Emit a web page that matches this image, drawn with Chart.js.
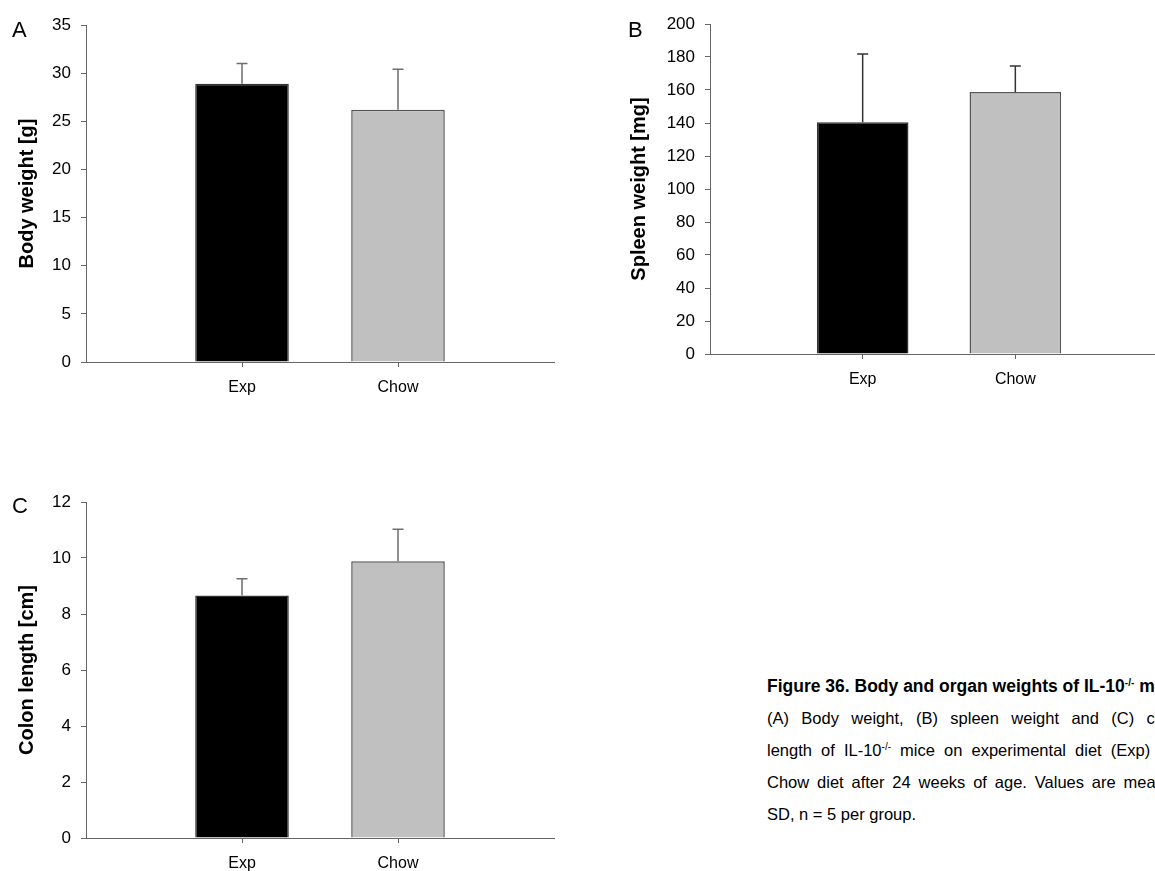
<!DOCTYPE html>
<html lang="en">
<head>
<meta charset="UTF-8" />
<title>Body and organ weights of IL-10 mice</title>
<script src="https://cdn.jsdelivr.net/npm/chart.js"></script>
<style>
  html, body { margin: 0; padding: 0; background: #fff; overflow: hidden; }
  body { width: 1155px; height: 871px; position: relative; font-family: "Liberation Sans", Arial, sans-serif; }
  canvas { position: absolute; }
  #caption { position: absolute; left: 767px; top: 670px; width: 430px; font-size: 16.5px; line-height: 32px; color: #000; }
  #caption .j { text-align: justify; text-align-last: justify; }
  #caption .t { font-weight: bold; font-size: 17.5px; white-space: nowrap; }
  sup { font-size: 10px; line-height: 0; vertical-align: 6px; }
</style>
</head>
<body>
  <canvas id="panelA" width="560" height="400" style="left:0;top:0"></canvas>
  <canvas id="panelB" width="560" height="400" style="left:620px;top:0"></canvas>
  <canvas id="panelC" width="560" height="431" style="left:0;top:440px"></canvas>

  <div id="caption">
    <div class="t">Figure 36. Body and organ weights of IL-10<sup>-/-</sup> mice</div>
    <div class="j" style="width:419px">(A) Body weight, (B) spleen weight and (C) colon</div>
    <div class="j" style="width:407px">length of IL-10<sup>-/-</sup> mice on experimental diet (Exp) or</div>
    <div class="j" style="width:423px">Chow diet after 24 weeks of age. Values are means ±</div>
    <div>SD, n = 5 per group.</div>
  </div>

<script>
const categories = ["Exp", "Chow"];
const bodyWeight = [28.9, 26.2];
const bodyWeightSD = [2.1, 4.2];
const spleenWeight = [140.4, 158.8];
const spleenWeightSD = [41.4, 15.8];
const colonLength = [8.66, 9.88];
const colonLengthSD = [0.6, 1.15];

const barColors = ["#000000", "#c0c0c0"];
const barBorders = ["#333333", "#555555"];

// mean + SD whiskers (upper only) and the panel letter
const errorBars = {
  id: "errorBars",
  afterDatasetsDraw(chart, args, opts) {
    const ctx = chart.ctx;
    const y = chart.scales.y;
    const ds = chart.data.datasets[0];
    ctx.save();
    ctx.strokeStyle = opts.color;
    ctx.lineWidth = 1.5;
    chart.getDatasetMeta(0).data.forEach((bar, i) => {
      const top = y.getPixelForValue(ds.data[i].y + opts.sd[i]);
      ctx.beginPath();
      ctx.moveTo(bar.x, bar.y);
      ctx.lineTo(bar.x, top);
      ctx.moveTo(bar.x - 5.5, top);
      ctx.lineTo(bar.x + 5.5, top);
      ctx.stroke();
    });
    ctx.restore();
  },
  afterDraw(chart, args, opts) {
    const ctx = chart.ctx;
    ctx.save();
    ctx.fillStyle = "#000";
    ctx.font = "22px 'Liberation Sans', Arial, sans-serif";
    ctx.textBaseline = "middle";
    ctx.fillText(opts.letter, opts.lx, opts.ly);
    ctx.restore();
  }
};

function makePanel(id, values, sd, yMax, step, title, g) {
  new Chart(document.getElementById(id), {
    type: "bar",
    data: {
      datasets: [{
        data: values.map((v, i) => ({ x: i + 1, y: v })),
        backgroundColor: barColors,
        borderColor: barBorders,
        borderWidth: 1.5,
        categoryPercentage: 1,
        barPercentage: 0.6
      }]
    },
    plugins: [errorBars],
    options: {
      responsive: false,
      animation: false,
      devicePixelRatio: 1,
      layout: { padding: { left: 0, top: g.top, right: g.right, bottom: 0 } },
      plugins: {
        legend: { display: false },
        tooltip: { enabled: false },
        errorBars: { sd: sd, color: g.err, letter: g.letter, lx: g.lx, ly: g.ly }
      },
      scales: {
        x: {
          type: "linear",
          min: 0,
          max: 3,
          offset: false,
          afterBuildTicks: s => { s.ticks = categories.map((c, i) => ({ value: i + 1 })); },
          afterFit: s => { s.height = g.xh; },
          ticks: {
            autoSkip: false,
            maxRotation: 0,
            padding: 11,
            color: "#000",
            font: { family: "'Liberation Sans', Arial, sans-serif", size: 16 },
            callback: v => categories[v - 1]
          },
          grid: { drawOnChartArea: false, tickLength: 5, color: "#666", offset: false },
          border: { color: "#666", width: 1 }
        },
        y: {
          min: 0,
          max: yMax,
          afterFit: s => { s.width = g.yw; },
          ticks: {
            stepSize: step,
            padding: 10,
            color: "#000",
            font: { family: "'Liberation Sans', Arial, sans-serif", size: 17 }
          },
          grid: { drawOnChartArea: false, tickLength: 5, color: "#666" },
          border: { color: "#666", width: 1 },
          title: {
            display: true,
            text: title,
            color: "#000",
            padding: { top: g.tp, bottom: 0 },
            font: { family: "'Liberation Sans', Arial, sans-serif", size: 20, weight: "bold" }
          }
        }
      }
    }
  });
}

makePanel("panelA", bodyWeight, bodyWeightSD, 35, 5, "Body weight [g]",
  { top: 25, right: 6, xh: 38, yw: 86, tp: 15, err: "#6e6e6e", letter: "A", lx: 12, ly: 31 });
makePanel("panelB", spleenWeight, spleenWeightSD, 200, 20, "Spleen weight [mg]",
  { top: 24, right: 12, xh: 46, yw: 90, tp: 7, err: "#333", letter: "B", lx: 8, ly: 31 });
makePanel("panelC", colonLength, colonLengthSD, 12, 2, "Colon length [cm]",
  { top: 62, right: 6, xh: 33, yw: 86, tp: 15, err: "#6e6e6e", letter: "C", lx: 12, ly: 67 });
</script>
</body>
</html>
